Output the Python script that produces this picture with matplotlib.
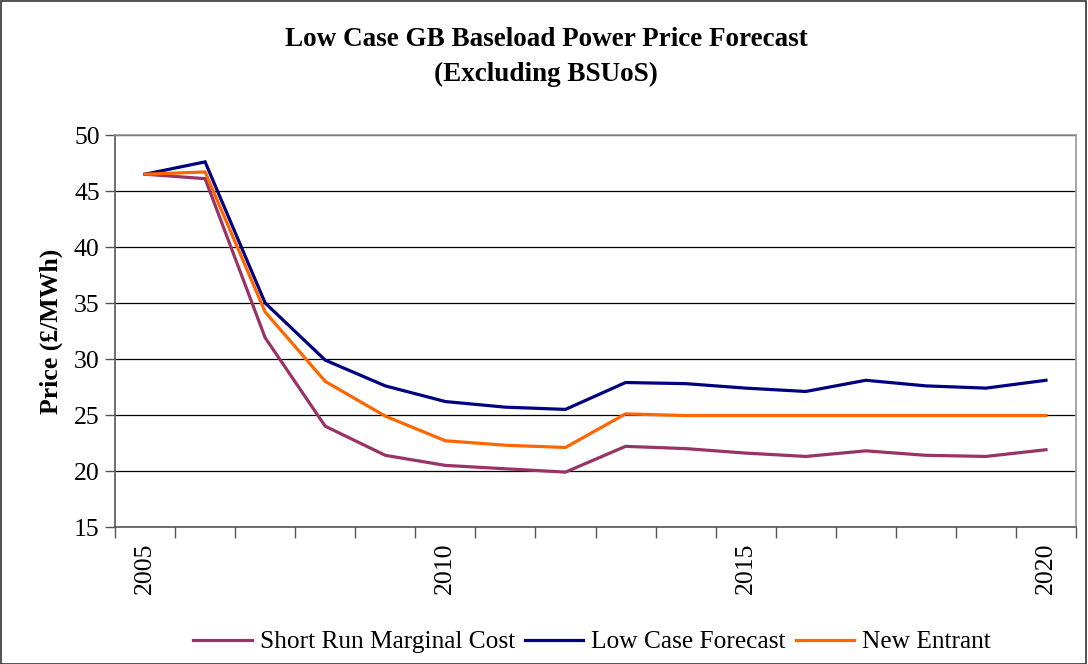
import matplotlib
matplotlib.use("Agg")
import matplotlib.pyplot as plt
from matplotlib.patches import Rectangle

years = list(range(2005, 2021))
srmc = [46.5, 46.1, 31.9, 24.0, 21.4, 20.5, 20.2, 19.9, 22.2, 22.0, 21.6, 21.3, 21.8, 21.4, 21.3, 21.9]
low_case = [46.5, 47.6, 35.0, 29.9, 27.6, 26.2, 25.7, 25.5, 27.9, 27.8, 27.4, 27.1, 28.1, 27.6, 27.4, 28.1]
new_entrant = [46.5, 46.7, 34.2, 28.0, 24.9, 22.7, 22.3, 22.1, 25.1, 24.95, 24.95, 24.95, 24.95, 24.95, 24.95, 24.95]
series_names = ["Short Run Marginal Cost", "Low Case Forecast", "New Entrant"]
colors = ["#993366", "#000080", "#FF6600"]
label_years = [2005, 2010, 2015, 2020]
title_lines = ["Low Case GB Baseload Power Price Forecast", "(Excluding BSUoS)"]

plt.rcParams['font.family'] = ['Liberation Serif', 'DejaVu Serif']

W, H = 1088, 664
fig = plt.figure(figsize=(W / 100, H / 100), dpi=100)
ax = fig.add_axes([115 / W, 1 - 527 / H, (1076 - 115) / W, (527 - 135) / H])

x = list(range(len(years)))
for vals, name, c in zip([srmc, low_case, new_entrant], series_names, colors):
    ax.plot(x, vals, color=c, lw=2.3, label=name, solid_joinstyle='miter')

ax.set_xlim(-0.5, len(years) - 0.5)
ax.set_ylim(15, 50)
ax.set_yticks(range(15, 51, 5))
ax.yaxis.grid(True, color='black', lw=0.9)
ax.set_axisbelow(True)

ax.set_xticks([i - 0.5 for i in range(len(years) + 1)])
ax.set_xticklabels([])
ax.set_xticks([years.index(y) for y in label_years], minor=True)
ax.set_xticklabels([str(y) for y in label_years], minor=True, rotation=90, fontsize=18.5)
ax.tick_params(axis='x', which='major', direction='out', length=8, color='#555555', width=1)
ax.tick_params(axis='x', which='minor', length=0, pad=11)
ax.tick_params(axis='y', direction='out', length=7, color='#555555', width=1, labelsize=18.5, pad=4)

for s in ['left', 'bottom']:
    ax.spines[s].set_color('#555555')
    ax.spines[s].set_linewidth(1.2)
for s in ['top', 'right']:
    ax.spines[s].set_color('#999999')
    ax.spines[s].set_linewidth(1.2)

ax.set_ylabel("Price (£/MWh)", fontsize=18.5, fontweight='bold', labelpad=8)

fig.text(546 / W, 1 - 39 / H, title_lines[0], ha='center', va='center', fontsize=19.5, fontweight='bold')
fig.text(546 / W, 1 - 74 / H, title_lines[1], ha='center', va='center', fontsize=19.5, fontweight='bold')

leg = fig.legend(loc='center', bbox_to_anchor=(592 / W, 1 - 642 / H), ncol=3, frameon=False,
                 fontsize=18.3, handlelength=2.3, handletextpad=0.3, columnspacing=0.4)

fig.patches.append(Rectangle((0.5 / W, 0), 1 - 2.5 / W, 1 - 1 / H, transform=fig.transFigure,
                             fill=False, edgecolor='#333333', lw=1.2))

fig.savefig("out.png", dpi=100)
